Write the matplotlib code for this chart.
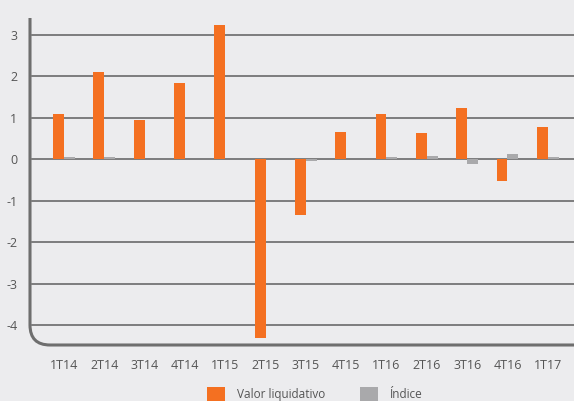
import matplotlib
matplotlib.use("Agg")
import matplotlib.pyplot as plt
import numpy as np
from matplotlib.path import Path
from matplotlib.patches import PathPatch

categories = ["1T14", "2T14", "3T14", "4T14", "1T15", "2T15", "3T15", "4T15",
              "1T16", "2T16", "3T16", "4T16", "1T17"]
valor_liquidativo = [1.1, 2.1, 0.95, 1.85, 3.25, -4.3, -1.35, 0.67, 1.1, 0.64, 1.25, -0.52, 0.79]
indice = [0.05, 0.05, 0.01, 0.01, 0.01, 0.01, -0.05, 0.01, 0.05, 0.08, -0.11, 0.13, 0.05]
yticks = [-4, -3, -2, -1, 0, 1, 2, 3]
series_names = ["Valor liquidativo", "Índice"]

bg = "#ececee"
orange = "#f47021"
grey = "#a9a9ab"
txt = "#555555"
plt.rcParams['font.family'] = ['Open Sans', 'DejaVu Sans']

W, H = 574, 401
fig = plt.figure(figsize=(W / 100, H / 100), dpi=100, facecolor=bg)
ax_l, ax_r, ax_b, ax_t = 30 / W, 1.0, 1 - 345 / H, 1 - 18 / H
ax = fig.add_axes([ax_l, ax_b, ax_r - ax_l, ax_t - ax_b])
ax.set_facecolor(bg)

x = np.arange(len(categories))
bw = 0.27
ax.bar(x - bw / 2, valor_liquidativo, bw, color=orange, zorder=3, label=series_names[0])
ax.bar(x + bw / 2, indice, bw, color=grey, zorder=3, label=series_names[1])

ax.set_xlim(-0.84, 12.65)
ax.set_ylim(-4.48, 3.41)
ax.set_yticks(yticks)
ax.set_yticklabels([str(v) for v in yticks])
ax.set_xticks(x)
ax.set_xticklabels(categories)
for y in yticks:
    ax.axhline(y, xmin=2 / 544, xmax=1, color="#6a6a6a", lw=1.2, zorder=1)
for s in ax.spines.values():
    s.set_visible(False)
ax.tick_params(axis="both", length=0, colors=txt, labelsize=9)
ax.tick_params(axis="x", pad=10)
ax.tick_params(axis="y", pad=9)

# rounded corner spine
axw = (ax_r - ax_l) * W
axh = (ax_t - ax_b) * H
rx, ry = 20 / axw, 20 / axh
verts = [(0, 1), (0, ry), (0, 0), (rx, 0), (1, 0)]
codes = [Path.MOVETO, Path.LINETO, Path.CURVE3, Path.CURVE3, Path.LINETO]
ax.add_patch(PathPatch(Path(verts, codes), transform=ax.transAxes, fill=False,
                       edgecolor="#6e6e6e", lw=2.2, clip_on=False, zorder=4))

h, l = ax.get_legend_handles_labels()
fig.legend(h, l, loc="upper left", bbox_to_anchor=(207 / W, 1 - 387 / H), ncol=2,
           frameon=False, fontsize=8.5, handlelength=1.52, handleheight=1.52,
           handletextpad=1.0, columnspacing=3.0, borderpad=0, borderaxespad=0,
           labelcolor=txt)

fig.savefig("out.png", dpi=100, facecolor=bg)
